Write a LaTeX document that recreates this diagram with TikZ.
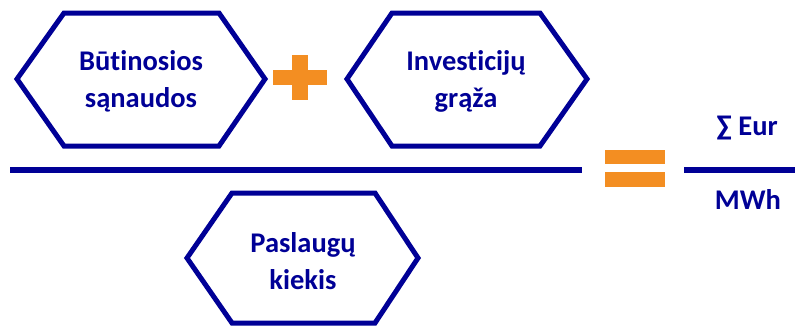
\documentclass[tikz,border=0pt]{standalone}
\usepackage{fontspec}
\setmainfont{Carlito}[RawFeature={-liga,-clig}]
\definecolor{navy}{RGB}{0,0,150}
\definecolor{orng}{RGB}{243,142,34}
\begin{document}
\begin{tikzpicture}[x=1pt,y=-1pt,
  hexa/.style={draw=navy,line width=5pt,line join=miter},
  lbl/.style={text=navy,font=\fontsize{28.5}{37}\selectfont\bfseries,align=center,inner sep=0pt},
  barline/.style={draw=navy,line width=6pt},
  orangefill/.style={fill=orng}]
\useasboundingbox (0,0) rectangle (795,325);
% hexagon 1
\draw[hexa] (17,79) -- (64,13) -- (219,13) -- (265,79) -- (219,146) -- (64,146) -- cycle;
\node[lbl] (t1) at (141,81) {Būtinosios\\sąnaudos};
% plus
\fill[orangefill] (273,70) rectangle (327,85);
\fill[orangefill] (292,55) rectangle (308,100);
% hexagon 2
\draw[hexa] (347,79) -- (392,13) -- (540,13) -- (587,79) -- (540,146) -- (392,146) -- cycle;
\node[lbl] (t2) at (466,81) {Investicijų\\grąža};
% fraction line
\coordinate (f1) at (10,170);
\coordinate (f2) at (582,170);
\draw[barline] (f1) -- (f2);
% hexagon 3
\draw[hexa] (187,258) -- (232,193) -- (375,193) -- (418,258) -- (375,323) -- (232,323) -- cycle;
\node[lbl] (t3) at (303,261) {Paslaugų\\kiekis};
% equals
\fill[orangefill] (605,150) rectangle (665,164);
\fill[orangefill] (605,172) rectangle (665,187);
% right fraction
\coordinate (g1) at (684,170);
\coordinate (g2) at (795,170);
\draw[barline] (g1) -- (g2);
\node[lbl] (eur) at (747,128) {∑ Eur};
\node[lbl] (mwh) at (748,199) {MWh};
\end{tikzpicture}
\end{document}
